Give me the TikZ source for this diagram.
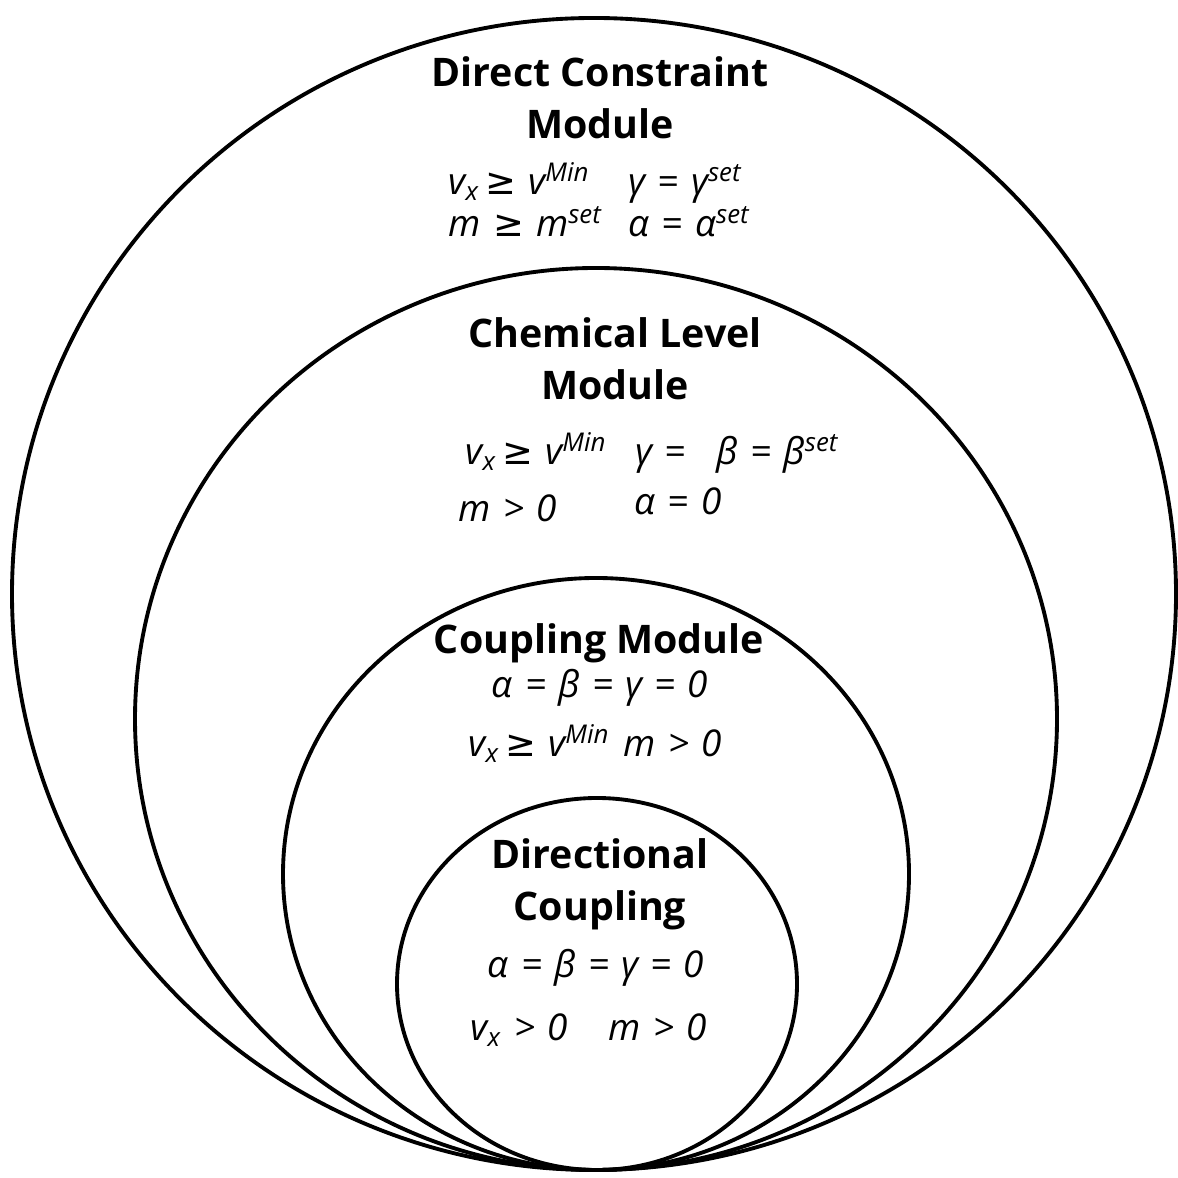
\documentclass[tikz,border=0pt]{standalone}
\usepackage{fontspec}
\setmainfont{Open Sans}
\newfontfamily\symfont{DejaVu Sans}
\newcommand{\vx}{v\textsubscript{x}}
\newcommand{\rel}[1]{\hspace{0.33em}#1\hspace{0.33em}}
\newcommand{\atleast}{\hspace{0.15em}{\symfont\upshape ≥}\hspace{0.33em}}
\tikzset{
	ring/.style = {line width = 1.1pt},
	heading/.style = {font = \bfseries\fontsize{11.2}{14.9}\selectfont, align = center, inner sep = 0pt},
	formula/.style = {font = \itshape\fontsize{10.5}{12}\selectfont, inner sep = 0pt, anchor = base west}
}
\begin{document}
\begin{tikzpicture}
	\useasboundingbox (0, 0) rectangle (11.77, 11.78);
	% nested modules, all touching at the bottom
	\draw[ring] (5.94, 5.84) ellipse (5.82 and 5.76);
	\draw[ring] (5.96, 4.59) ellipse (4.61 and 4.51);
	\draw[ring] (5.96, 3.04) ellipse (3.13 and 2.96);
	\draw[ring] (5.97, 1.94) ellipse (2.00 and 1.86);
	% direct constraint module
	\node[heading] (dc) at (6.00, 10.80) {Direct Constraint\\Module};
	\node[formula] (dcv) at (4.48, 9.83) {\vx\atleast v\textsuperscript{Min}};
	\node[formula] (dcg) at (6.28, 9.83) {γ\rel{=}γ\textsuperscript{set}};
	\node[formula] (dcm) at (4.48, 9.41) {m\hspace{0.18em}\atleast m\textsuperscript{set}};
	\node[formula] (dca) at (6.28, 9.41) {α\rel{=}α\textsuperscript{set}};
	% chemical level module
	\node[heading] (cl) at (6.15, 8.19) {Chemical Level\\Module};
	\node[formula] (clv) at (4.65, 7.13) {\vx\atleast v\textsuperscript{Min}};
	\node[formula] (clb) at (6.35, 7.13) {γ\rel{=}\enspace β\rel{=}β\textsuperscript{set}};
	\node[formula] (clm) at (4.58, 6.56) {m\rel{>}0};
	\node[formula] (cla) at (6.34, 6.63) {α\rel{=}0};
	% coupling module
	\node[heading, anchor = base] (cm) at (5.99, 5.24) {Coupling Module};
	\node[formula, anchor = base] (cmz) at (6.00, 4.80) {α\rel{=}β\rel{=}γ\rel{=}0};
	\node[formula] (cmv) at (4.68, 4.21) {\vx\atleast v\textsuperscript{Min}};
	\node[formula] (cmm) at (6.23, 4.21) {m\rel{>}0};
	% directional coupling
	\node[heading] (dir) at (6.00, 2.94) {Directional\\Coupling};
	\node[formula, anchor = base] (dirz) at (5.96, 2.00) {α\rel{=}β\rel{=}γ\rel{=}0};
	\node[formula] (dirv) at (4.70, 1.37) {\vx\rel{>}0};
	\node[formula] (dirm) at (6.08, 1.37) {m\rel{>}0};
\end{tikzpicture}
\end{document}
